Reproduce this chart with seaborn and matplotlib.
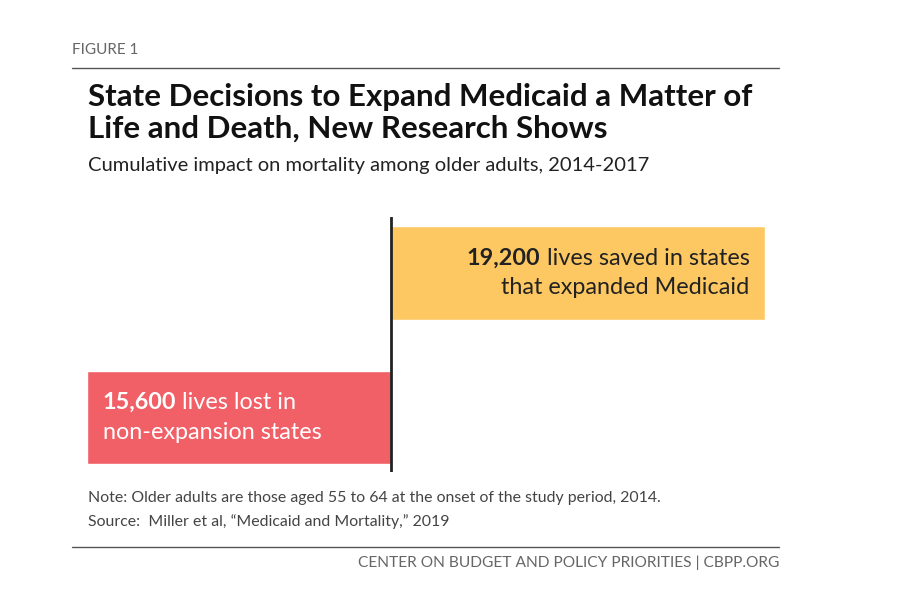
import matplotlib
matplotlib.use("Agg")
import matplotlib.pyplot as plt
import seaborn as sns
import pandas as pd

categories = ["expanded", "non-expansion"]
values = [19200, -15600]
bold_labels = ["19,200", "15,600"]
rest_line1 = [" lives saved in states", " lives lost in"]
rest_line2 = ["that expanded Medicaid", "non-expansion states"]
colors = ["#FDC862", "#F15F67"]

sns.set_theme(style="white")
plt.rcParams['font.family'] = ['Lato', 'DejaVu Sans']

W, H = 913, 599
fig = plt.figure(figsize=(W/100, H/100), dpi=100)
def fx(x): return x / W
def fy(y): return 1 - y / H

ax = fig.add_axes([fx(87), fy(472), fx(765) - fx(87), (472 - 217) / H])
df = pd.DataFrame({"cat": categories, "val": values})
sns.barplot(data=df, x="val", y="cat", hue="cat", palette=colors, orient="h",
            width=0.65, saturation=1, ax=ax, legend=False)
ax.set_xlim(-15600, 19200)
ax.set_ylim(1.377, -0.388)
ax.axvline(0, color="#222222", lw=2)
ax.axis("off")

fig.canvas.draw()
r = fig.canvas.get_renderer()
fs = 16.8
xr = 19200 - 800
t1 = ax.text(xr, -0.03, rest_line1[0], ha="right", va="bottom", fontsize=fs, color="#222222")
ax.text(xr, 0.03, rest_line2[0], ha="right", va="top", fontsize=fs, color="#222222")
bb = t1.get_window_extent(r)
x_left = ax.transData.inverted().transform((bb.x0, 0))[0]
ax.text(x_left, -0.03, bold_labels[0], ha="right", va="bottom", fontsize=fs, fontweight="bold", color="#222222")
x0 = -15600 + 800
tb = ax.text(x0, 0.97, bold_labels[1], ha="left", va="bottom", fontsize=fs, fontweight="bold", color="white")
bb = tb.get_window_extent(r)
x_right = ax.transData.inverted().transform((bb.x1, 0))[0]
ax.text(x_right, 0.97, rest_line1[1], ha="left", va="bottom", fontsize=fs, color="white")
ax.text(x0, 1.03, rest_line2[1], ha="left", va="top", fontsize=fs, color="white")

fig.text(fx(72), fy(50), "FIGURE 1", fontsize=11, color="#666666", va="center")
fig.add_artist(plt.Line2D([fx(72), fx(779)], [fy(68), fy(68)], color="#555555", lw=1))
fig.text(fx(88), fy(97), "State Decisions to Expand Medicaid a Matter of", fontsize=22.5,
         fontweight="bold", color="#111111", va="center")
fig.text(fx(88), fy(129), "Life and Death, New Research Shows", fontsize=22.5,
         fontweight="bold", color="#111111", va="center")
fig.text(fx(88), fy(165), "Cumulative impact on mortality among older adults, 2014-2017", fontsize=14.5,
         color="#222222", va="center")
fig.text(fx(88), fy(498), "Note: Older adults are those aged 55 to 64 at the onset of the study period, 2014.",
         fontsize=11.4, color="#444444", va="center")
fig.text(fx(88), fy(522), "Source:  Miller et al, \u201cMedicaid and Mortality,\u201d 2019",
         fontsize=11.4, color="#444444", va="center")
fig.add_artist(plt.Line2D([fx(72), fx(779)], [fy(547), fy(547)], color="#555555", lw=1))
fig.text(fx(779), fy(563), "CENTER ON BUDGET AND POLICY PRIORITIES | CBPP.ORG", fontsize=11.2,
         color="#666666", va="center", ha="right")

fig.savefig("out.png", dpi=100, facecolor="white")
